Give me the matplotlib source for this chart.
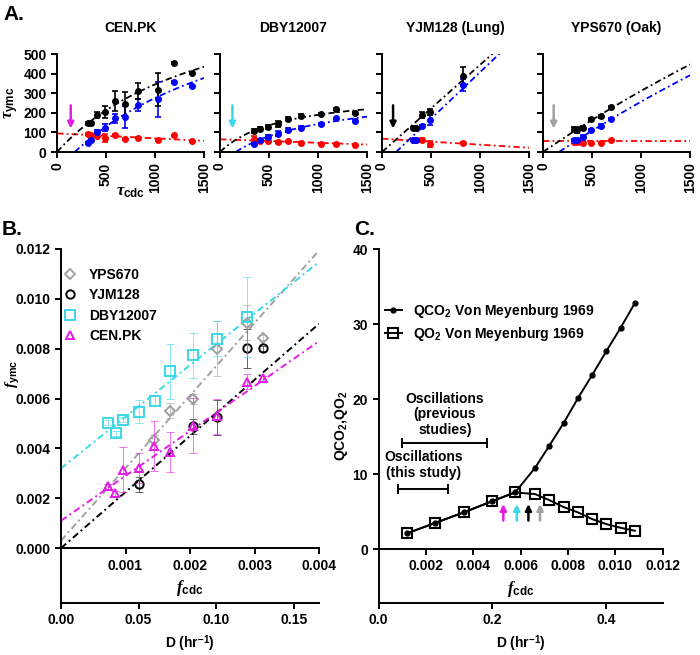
import numpy as np
import matplotlib
matplotlib.use("Agg")
import matplotlib.pyplot as plt
from matplotlib.lines import Line2D

plt.rcParams.update({
    "font.family": ["Liberation Sans", "DejaVu Sans"],
    "font.weight": "bold",
    "axes.labelweight": "bold",
    "axes.titleweight": "bold",
    "font.size": 10,
    "axes.linewidth": 1.4,
    "xtick.major.width": 1.4,
    "ytick.major.width": 1.4,
    "xtick.major.size": 4,
    "ytick.major.size": 4,
    "mathtext.fontset": "custom",
    "mathtext.it": "Liberation Serif:italic",
    "mathtext.rm": "Liberation Sans",
    "mathtext.bf": "Liberation Sans:bold",
})

# ---- data ----
strains = ["CEN.PK", "DBY12007", "YJM128", "YPS670"]
titles = ["CEN.PK", "DBY12007", "YJM128 (Lung)", "YPS670 (Oak)"]
strain_colors = {"CEN.PK": "#e31ce3", "DBY12007": "#3ad8e8",
                 "YJM128": "black", "YPS670": "#a0a0a0"}
strain_markers = {"CEN.PK": "^", "DBY12007": "s", "YJM128": "o", "YPS670": "D"}

f_cdc = {
    "CEN.PK": [0.000724, 0.000837, 0.000966, 0.00121, 0.00144, 0.00169, 0.00204, 0.00242, 0.00288, 0.00313],
    "DBY12007": [0.000724, 0.000848, 0.000966, 0.00121, 0.00145, 0.00169, 0.00204, 0.00242, 0.00288],
    "YJM128": [0.00121, 0.00204, 0.00242, 0.00288, 0.00313],
    "YPS670": [0.00144, 0.00169, 0.00204, 0.00242, 0.00288, 0.00313],
}
f_ymc = {
    "CEN.PK": [0.00249, 0.00221, 0.00315, 0.00321, 0.00411, 0.00385, 0.00492, 0.00529, 0.00668, 0.00681],
    "DBY12007": [0.00503, 0.00460, 0.00516, 0.00548, 0.00592, 0.00709, 0.00773, 0.00840, 0.00928],
    "YJM128": [0.00257, 0.00488, 0.00525, 0.00801, 0.00801],
    "YPS670": [0.00432, 0.00552, 0.00597, 0.00800, 0.00905, 0.00845],
}
f_ymc_err = {
    "CEN.PK": [0.0001, 0.0001, 0.0009, 0.0006, 0.0010, 0.0008, 0.0011, 0.0007, 0.0003, 0.0001],
    "DBY12007": [0.0001, 0.0001, 0.0001, 0.00045, 0.0002, 0.0011, 0.0009, 0.0007, 0.0016],
    "YJM128": [0.0003, 0.0003, 0.0007, 0.0008, 0.0001],
    "YPS670": [0.0002, 0.0003, 0.0002, 0.0011, 0.0007, 0.0001],
}
# panel A: total period error, and the two phases (blue, red)
tau_ymc_err = {
    "CEN.PK": [5, 5, 85, 40, 65, 50, 30, 15, 5, 5],
    "DBY12007": [5, 5, 5, 10, 8, 15, 10, 10, 12],
    "YJM128": [45, 15, 15, 5, 5],
    "YPS670": [5, 8, 5, 10, 15, 10],
}
blue_tau = {
    "CEN.PK": [336, 355, 268, 239, 179, 171, 125, 102, 60, 48],
    "DBY12007": [159, 171, 145, 125, 114, 94, 77, 60, 43],
    "YJM128": [341, 162, 131, 60, 60],
    "YPS670": [167, 131, 114, 77, 63, 63],
}
blue_err = {
    "CEN.PK": [5, 5, 90, 30, 55, 25, 20, 10, 5, 5],
    "DBY12007": [5, 5, 5, 8, 10, 12, 8, 5, 5],
    "YJM128": [30, 25, 5, 5, 5],
    "YPS670": [5, 10, 5, 8, 5, 5],
}
red_tau = {
    "CEN.PK": [55, 85, 60, 72, 68, 85, 73, 80, 89, 94],
    "DBY12007": [38, 39, 43, 46, 55, 51, 56, 56, 68],
    "YJM128": [46, 43, 60, 60, 62],
    "YPS670": [60, 48, 48, 46, 51, 51],
}
red_err = {
    "CEN.PK": [3, 3, 3, 3, 5, 5, 20, 5, 5, 5],
    "DBY12007": [3, 3, 3, 3, 3, 5, 5, 5, 15],
    "YJM128": [5, 15, 10, 5, 5],
    "YPS670": [3, 3, 3, 8, 5, 5],
}
# linear fits f_ymc = a + b * f_cdc
fit_a = {"CEN.PK": 0.0011, "DBY12007": 0.0032, "YJM128": 0.0, "YPS670": 0.0003}
fit_b = {"CEN.PK": 1.80, "DBY12007": 2.07, "YJM128": 2.25, "YPS670": 2.91}
# red phase line: value at tau_cdc = 0 and 1500
red_fit = {"CEN.PK": (95, 57), "DBY12007": (65, 38), "YJM128": (68, 22), "YPS670": (55, 55)}
arrow_tau = {"CEN.PK": 140, "DBY12007": 127, "YJM128": 113, "YPS670": 109}

# panel C: von Meyenburg 1969
vm_D = [0.05, 0.10, 0.15, 0.20, 0.24, 0.275, 0.30, 0.325, 0.35, 0.375, 0.40, 0.425, 0.45]
qco2 = [2.09, 3.5, 4.9, 6.4, 7.56, 10.84, 13.8, 16.8, 20.1, 23.2, 26.4, 29.5, 32.8]
qo2 = [2.09, 3.5, 4.9, 6.4, 7.56, 7.33, 6.53, 5.6, 4.9, 4.0, 3.33, 2.84, 2.44]
c_arrow_f = [0.00527, 0.00584, 0.00633, 0.00682]
c_arrow_strains = ["CEN.PK", "DBY12007", "YJM128", "YPS670"]
osc_prev = (0.0010, 0.0046)
osc_this = (0.00084, 0.00295)


def f_to_D(f):
    return np.asarray(f) * 60 * np.log(2)


def D_to_f(D):
    return np.asarray(D) / (60 * np.log(2))


W, H = 700, 655
fig = plt.figure(figsize=(W / 100, H / 100), dpi=100)


def px_axes(l, t, r, b):
    return fig.add_axes([l / W, 1 - b / H, (r - l) / W, (b - t) / H])


dashdot = (0, (3.5, 1.8, 1, 1.8))

# ---- panel A ----
a_lefts = [57, 220, 382, 543]
tau = np.linspace(0.5, 1500, 400)
for i, (s, title, left) in enumerate(zip(strains, titles, a_lefts)):
    ax = px_axes(left, 54, left + 147, 152)
    fc = np.array(f_cdc[s])
    t_cdc = 1 / fc
    t_ymc = 1 / np.array(f_ymc[s])
    black = tau / (fit_b[s] + fit_a[s] * tau)
    r0, r1 = red_fit[s]
    red = r0 + (r1 - r0) * tau / 1500
    blue = black - red
    blue = np.where(blue < 0, np.nan, blue)
    ax.plot(tau, red, color="red", lw=1.3, ls=dashdot)
    ax.plot(tau, blue, color="blue", lw=1.3, ls=dashdot)
    ax.plot(tau, black, color="black", lw=1.3, ls=dashdot)
    ax.errorbar(t_cdc, red_tau[s], yerr=red_err[s], fmt="o", color="red",
                ms=4, capsize=2, elinewidth=1.2, capthick=1.2)
    ax.errorbar(t_cdc, blue_tau[s], yerr=blue_err[s], fmt="o", color="blue",
                ms=4, capsize=2, elinewidth=1.2, capthick=1.2)
    ax.errorbar(t_cdc, t_ymc, yerr=tau_ymc_err[s], fmt="o", color="black",
                ms=4, capsize=2, elinewidth=1.2, capthick=1.2)
    ax.annotate("", xy=(arrow_tau[s], 120), xytext=(arrow_tau[s], 238),
                arrowprops=dict(arrowstyle="-|>", color=strain_colors[s], lw=1.8,
                                mutation_scale=9, shrinkA=0, shrinkB=0))
    ax.set_xlim(0, 1500)
    ax.set_ylim(0, 500)
    ax.set_xticks([0, 500, 1000, 1500])
    ax.set_xticklabels(["0", "500", "1000", "1500"], rotation=90)
    ax.set_yticks(np.arange(0, 501, 100))
    ax.spines[["top", "right"]].set_visible(False)
    ax.set_title(title, fontsize=10, pad=16)
    if i == 0:
        ax.set_ylabel(r"$\tau_{\mathrm{ymc}}$", fontsize=12, labelpad=2)
        ax.set_xlabel(r"$\tau_{\mathbf{cdc}}$", fontsize=12, labelpad=-6)
    else:
        ax.set_yticklabels([])

fig.text(3 / W, 1 - 15 / H, "A.", fontsize=15, fontweight="bold", va="center")

# ---- panel B ----
axB = px_axes(61, 249, 319, 603)
xs = np.linspace(0, 0.004, 50)
for s in ["YPS670", "YJM128", "DBY12007", "CEN.PK"]:
    c = strain_colors[s]
    axB.plot(xs, fit_a[s] + fit_b[s] * xs, color=c, lw=1.4, ls=dashdot)
for s in ["YPS670", "YJM128", "DBY12007", "CEN.PK"]:
    c = strain_colors[s]
    axB.errorbar(f_cdc[s], f_ymc[s], yerr=f_ymc_err[s], fmt="none", ecolor=c,
                 alpha=0.6, elinewidth=0.7, capsize=3, capthick=0.7)
    axB.plot(f_cdc[s], f_ymc[s], ls="none", marker=strain_markers[s], mfc="none",
             mec=c, mew=1.4, ms=7 if s == "DBY12007" else 6 if s != "YPS670" else 5,
             label=s)
axB.set_xlim(0, 0.004)
axB.set_ylim(-0.0022, 0.012)
axB.set_yticks(np.arange(0, 0.0121, 0.002))
axB.set_yticklabels([f"{v:.3f}" for v in np.arange(0, 0.0121, 0.002)])
axB.set_xticks([0.001, 0.002, 0.003, 0.004])
axB.set_xticklabels(["0.001", "0.002", "0.003", "0.004"])
axB.spines[["top", "right"]].set_visible(False)
axB.spines["bottom"].set_position(("data", 0))
axB.set_xlabel(r"$f_{\mathbf{cdc}}$", fontsize=12, labelpad=4)
fig.text(13 / W, 1 - 374 / H, r"$f_{\mathrm{ymc}}$", fontsize=11, rotation=90,
         ha="center", va="center")
secB = axB.secondary_xaxis(0, functions=(f_to_D, D_to_f))
secB.set_xticks([0, 0.05, 0.10, 0.15])
secB.set_xticklabels(["0.00", "0.05", "0.10", "0.15"])
secB.set_xlabel(r"D (hr$^{\mathbf{-1}}$)", fontsize=10)
secB.spines["bottom"].set_linewidth(1.4)
axB.legend(loc="upper left", bbox_to_anchor=(64 / W, 1 - 268 / H),
           bbox_transform=fig.transFigure, frameon=False, fontsize=10,
           handlelength=0.8, handletextpad=1.0, labelspacing=0.45,
           borderpad=0, borderaxespad=0)
fig.text(2 / W, 1 - 229 / H, "B.", fontsize=15, fontweight="bold", va="center")

# ---- panel C ----
axC = px_axes(378.5, 249.3, 662.7, 603)
vm_f = D_to_f(vm_D)
axC.plot(vm_f, qo2, color="black", lw=1.4, marker="s", ms=7, mfc="none", mew=1.5,
         label=r"QO$_\mathbf{2}$ Von Meyenburg 1969")
axC.plot(vm_f, qco2, color="black", lw=1.4, marker="o", ms=3.5,
         label=r"QCO$_\mathbf{2}$ Von Meyenburg 1969")
for f, s in zip(c_arrow_f, c_arrow_strains):
    axC.annotate("", xy=(f, 6.0), xytext=(f, 3.8),
                 arrowprops=dict(arrowstyle="-|>", color=strain_colors[s], lw=1.8,
                                 mutation_scale=9, shrinkA=0, shrinkB=0))
for (x0, x1), y in [(osc_prev, 14.2), (osc_this, 8.0)]:
    axC.errorbar((x0 + x1) / 2, y, xerr=(x1 - x0) / 2, fmt="none", ecolor="black",
                 elinewidth=1.4, capsize=3.5, capthick=1.4)
axC.text(np.mean(osc_prev), 18.0, "Oscillations\n(previous\nstudies)", ha="center",
         va="center", fontsize=10, linespacing=1.15)
axC.text(np.mean(osc_this), 11.2, "Oscillations\n(this study)", ha="center",
         va="center", fontsize=10, linespacing=1.15)
axC.set_xlim(0, 0.012)
axC.set_ylim(-7.2, 40)
axC.set_yticks([0, 10, 20, 30, 40])
axC.set_xticks([0.002, 0.004, 0.006, 0.008, 0.010, 0.012])
axC.set_xticklabels(["0.002", "0.004", "0.006", "0.008", "0.010", "0.012"])
axC.spines[["top", "right"]].set_visible(False)
axC.spines["bottom"].set_position(("data", 0))
axC.set_xlabel(r"$f_{\mathbf{cdc}}$", fontsize=12, labelpad=4)
axC.set_ylabel(r"QCO$_\mathbf{2}$,QO$_\mathbf{2}$", fontsize=10, labelpad=2)
secC = axC.secondary_xaxis(0, functions=(f_to_D, D_to_f))
secC.set_xticks([0.0, 0.2, 0.4])
secC.set_xticklabels(["0.0", "0.2", "0.4"])
secC.set_xlabel(r"D (hr$^{\mathbf{-1}}$)", fontsize=10)
h = [Line2D([], [], color="black", lw=1.4, marker="o", ms=3.5),
     Line2D([], [], color="black", lw=1.4, marker="s", ms=7, mfc="none", mew=1.5)]
axC.legend(h, [r"QCO$_\mathbf{2}$ Von Meyenburg 1969", r"QO$_\mathbf{2}$ Von Meyenburg 1969"],
           loc="upper left", bbox_to_anchor=(385 / W, 1 - 302 / H),
           bbox_transform=fig.transFigure, frameon=False, fontsize=10,
           handlelength=1.2, handletextpad=0.8, labelspacing=0.35,
           borderpad=0, borderaxespad=0)
fig.text(354 / W, 1 - 230 / H, "C.", fontsize=15, fontweight="bold", va="center")

fig.savefig("out.png", dpi=100)
